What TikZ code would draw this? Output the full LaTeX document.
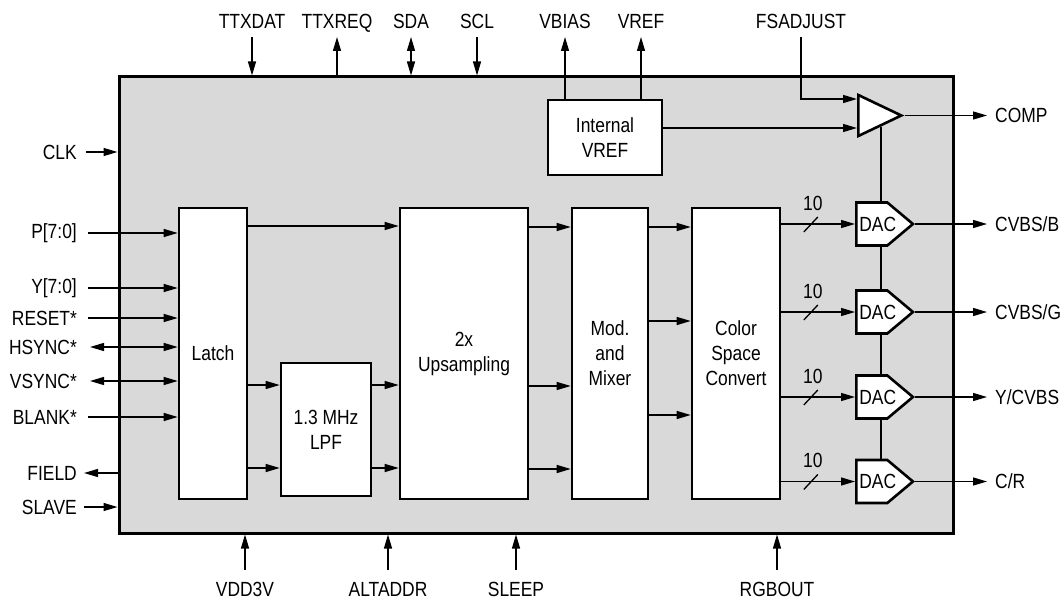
\documentclass[tikz,border=0pt]{standalone}
\usepackage{fontspec}
\setmainfont{Liberation Sans}[FakeStretch=0.85]
\usetikzlibrary{arrows.meta,shapes.geometric,shapes.symbols,calc}
\definecolor{chipgray}{RGB}{217,217,217}
\tikzset{>={Triangle[length=14pt,width=8pt]}}

\begin{document}
\begin{tikzpicture}[x=1pt, y=-1pt,
    every node/.style={align=center, font=\fontsize{20.5}{25}\selectfont},
    chip/.style={draw, line width=3pt, fill=chipgray, minimum width=834pt, minimum height=456pt},
    block/.style={draw, line width=2.6pt, fill=white, inner sep=0pt},
    dac/.style={draw, line width=2.6pt, fill=white, signal, signal to=east, signal pointer angle=80,
        minimum height=43pt, inner sep=0pt, text width=31pt, align=left, anchor=west,
        execute at begin node=\hspace*{3pt}},
    amp/.style={draw, line width=2.6pt, fill=white, isosceles triangle, isosceles triangle stretches,
        minimum width=41pt, minimum height=43pt, inner sep=0pt},
    pin/.style={inner sep=0pt},
    wire/.style={line width=1.3pt}]
    \useasboundingbox (0,0) rectangle (1064,599);

    % Nodes
    \node[chip] (chip) at (536,305) {};
    \node[block, minimum width=68pt, minimum height=291pt] (latch) at (213,353.5) {Latch};
    \node[block, minimum width=90pt, minimum height=133pt] (lpf) at (326,429.5) {1.3 MHz\\LPF};
    \node[block, minimum width=128pt, minimum height=291pt] (ups) at (464,353.5) {2x\\Upsampling};
    \node[block, minimum width=76pt, minimum height=291pt] (mix) at (610,353.5) {Mod.\\and\\Mixer};
    \node[block, minimum width=88pt, minimum height=291pt] (csc) at (736,353.5) {Color\\Space\\Convert};
    \node[block, minimum width=114pt, minimum height=75pt] (iref) at (605,137.5) {Internal\\VREF};
    \node[amp, anchor=lower side] (amp) at (857,115.5) {};
    \node[dac] (dac1) at (855,224) {DAC};
    \node[dac] (dac2) at (855,312) {DAC};
    \node[dac] (dac3) at (855,397) {DAC};
    \node[dac] (dac4) at (855,481.5) {DAC};

    % Pins
    \node[pin, anchor=base] (ttxdat) at (252,29) {TTXDAT};
    \node[pin, anchor=base] (ttxreq) at (337,29) {TTXREQ};
    \node[pin, anchor=base] (sda) at (411,29) {SDA};
    \node[pin, anchor=base] (scl) at (477,29) {SCL};
    \node[pin, anchor=base] (vbias) at (565,29) {VBIAS};
    \node[pin, anchor=base] (vref) at (641,29) {VREF};
    \node[pin, anchor=base] (fsadj) at (801,29) {FSADJUST};
    \node[pin, anchor=east] (clk) at (77,152) {CLK};
    \node[pin, anchor=east] (pdata) at (77,233) {P[7:0]};
    \node[pin, anchor=east] (ydata) at (77,288) {Y[7:0]};
    \node[pin, anchor=east] (reset) at (77,318) {RESET*};
    \node[pin, anchor=east] (hsync) at (77,347) {HSYNC*};
    \node[pin, anchor=east] (vsync) at (77,381) {VSYNC*};
    \node[pin, anchor=east] (blank) at (77,417) {BLANK*};
    \node[pin, anchor=east] (field) at (77,473) {FIELD};
    \node[pin, anchor=east] (slave) at (77,507) {SLAVE};
    \node[pin, anchor=base] (vdd) at (245,596) {VDD3V};
    \node[pin, anchor=base] (altaddr) at (388,596) {ALTADDR};
    \node[pin, anchor=base] (sleep) at (516,596) {SLEEP};
    \node[pin, anchor=base] (rgbout) at (777,596) {RGBOUT};
    \node[pin, anchor=west] (comp) at (995,115.5) {COMP};
    \node[pin, anchor=west] (cvbsb) at (995,224) {CVBS/B};
    \node[pin, anchor=west] (cvbsg) at (995,312) {CVBS/G};
    \node[pin, anchor=west] (ycvbs) at (995,397) {Y/CVBS};
    \node[pin, anchor=west] (cr) at (995,481.5) {C/R};

    % Arrows
    \draw[wire, ->] ([yshift=-8pt]ttxdat.base) -- (ttxdat |- chip.north);
    \draw[wire, <-] ([yshift=-8pt]ttxreq.base) -- (ttxreq |- chip.north);
    \draw[wire, <->] ([yshift=-8pt]sda.base) -- (sda |- chip.north);
    \draw[wire, ->] ([yshift=-8pt]scl.base) -- (scl |- chip.north);
    \draw[wire, ->] (vbias |- iref.north) -- ([yshift=-8pt]vbias.base);
    \draw[wire, ->] (vref |- iref.north) -- ([yshift=-8pt]vref.base);
    \draw[wire, ->] ([yshift=-8pt]fsadj.base) |- (amp.lower side |- 0,99);
    \draw[wire, ->] (iref.east |- 0,128) -- (amp.lower side |- 0,128);
    \draw[wire, ->] (amp.apex) -- ([xshift=-8pt]comp.west);

    \draw[wire, ->] ([xshift=9pt]clk.east) -- (clk -| chip.west);
    \draw[wire, ->] ([xshift=11pt]pdata.east) -- (pdata -| latch.west);
    \draw[wire, ->] ([xshift=11pt]ydata.east) -- (ydata -| latch.west);
    \draw[wire, ->] ([xshift=11pt]reset.east) -- (reset -| latch.west);
    \draw[wire, <->] ([xshift=13pt]hsync.east) -- (hsync -| latch.west);
    \draw[wire, <->] ([xshift=13pt]vsync.east) -- (vsync -| latch.west);
    \draw[wire, ->] ([xshift=11pt]blank.east) -- (blank -| latch.west);
    \draw[wire, ->] (field -| chip.west) -- ([xshift=7pt]field.east);
    \draw[wire, ->] ([xshift=7pt]slave.east) -- (slave -| chip.west);

    \draw[wire, ->] ([yshift=26pt]vdd.base) -- (vdd |- chip.south);
    \draw[wire, ->] ([yshift=26pt]altaddr.base) -- (altaddr |- chip.south);
    \draw[wire, ->] ([yshift=26pt]sleep.base) -- (sleep |- chip.south);
    \draw[wire, ->] ([yshift=26pt]rgbout.base) -- (rgbout |- chip.south);

    \draw[wire, ->] (latch.east |- 0,226) -- (ups.west |- 0,226);
    \draw[wire, ->] (latch.east |- 0,385) -- (lpf.west |- 0,385);
    \draw[wire, ->] (latch.east |- 0,468) -- (lpf.west |- 0,468);
    \draw[wire, ->] (lpf.east |- 0,385) -- (ups.west |- 0,385);
    \draw[wire, ->] (lpf.east |- 0,468) -- (ups.west |- 0,468);
    \draw[wire, ->] (ups.east |- 0,227) -- (mix.west |- 0,227);
    \draw[wire, ->] (ups.east |- 0,386) -- (mix.west |- 0,386);
    \draw[wire, ->] (ups.east |- 0,469) -- (mix.west |- 0,469);
    \draw[wire, ->] (mix.east |- 0,227) -- (csc.west |- 0,227);
    \draw[wire, ->] (mix.east |- 0,321) -- (csc.west |- 0,321);
    \draw[wire, ->] (mix.east |- 0,415) -- (csc.west |- 0,415);

    % 10-bit buses into the DACs
    \draw[wire, ->] (csc.east |- dac1) -- (dac1.west);
    \draw[wire, ->] (csc.east |- dac2) -- (dac2.west);
    \draw[wire, ->] (csc.east |- dac3) -- (dac3.west);
    \draw[wire, ->] (csc.east |- dac4) -- (dac4.west);
    \draw[wire] ($(csc.east |- dac1)!0.4!(dac1.west) + (-7,8)$) -- ++(14,-15);
    \draw[wire] ($(csc.east |- dac2)!0.4!(dac2.west) + (-7,8)$) -- ++(14,-15);
    \draw[wire] ($(csc.east |- dac3)!0.4!(dac3.west) + (-7,8)$) -- ++(14,-15);
    \draw[wire] ($(csc.east |- dac4)!0.4!(dac4.west) + (-7,8)$) -- ++(14,-15);
    \node[pin] (bus1) at ($(csc.east |- dac1)!0.4!(dac1.west) + (2,-21)$) {10};
    \node[pin] (bus2) at ($(csc.east |- dac2)!0.4!(dac2.west) + (2,-21)$) {10};
    \node[pin] (bus3) at ($(csc.east |- dac3)!0.4!(dac3.west) + (2,-21)$) {10};
    \node[pin] (bus4) at ($(csc.east |- dac4)!0.4!(dac4.west) + (2,-21)$) {10};

    % DAC outputs and reference chain
    \draw[wire, ->] (dac1.east) -- ([xshift=-8pt]cvbsb.west);
    \draw[wire, ->] (dac2.east) -- ([xshift=-8pt]cvbsg.west);
    \draw[wire, ->] (dac3.east) -- ([xshift=-8pt]ycvbs.west);
    \draw[wire, ->] (dac4.east) -- ([xshift=-8pt]cr.west);
    \coordinate (tap) at ($(amp.right corner)!0.5!(amp.apex)$);
    \draw[wire] (tap) -- (tap |- dac1.north);
    \draw[wire] (tap |- dac1.south) -- (tap |- dac2.north);
    \draw[wire] (tap |- dac2.south) -- (tap |- dac3.north);
    \draw[wire] (tap |- dac3.south) -- (tap |- dac4.north);
\end{tikzpicture}
\end{document}
